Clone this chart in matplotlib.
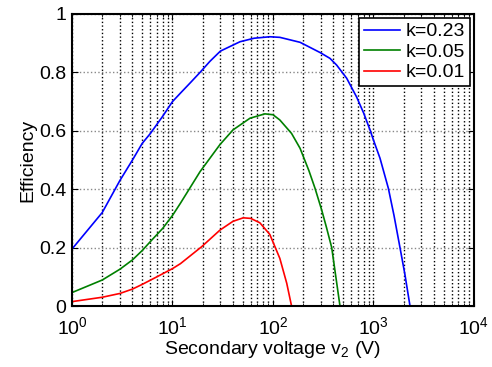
import matplotlib
matplotlib.use('Agg')
import matplotlib.pyplot as plt
import numpy as np
from matplotlib.ticker import LogLocator, NullFormatter

# Values
v_k023 = [1, 2, 3, 4, 5, 6, 8, 10, 12, 15, 18.8, 23.6, 30, 47, 65, 93, 117,
          186, 294, 369, 430, 541, 681, 800, 923, 1000, 1161, 1406, 1600,
          1835, 2050, 2308]
eff_k023 = [0.195, 0.32, 0.43, 0.50, 0.557, 0.59, 0.65, 0.70, 0.729, 0.764,
            0.80, 0.838, 0.873, 0.905, 0.917, 0.922, 0.92, 0.903, 0.868,
            0.848, 0.825, 0.78, 0.715, 0.66, 0.603, 0.568, 0.506, 0.403,
            0.31, 0.20, 0.11, 0.0]

v_k005 = [1, 2, 3, 4, 5, 6, 8, 10, 12, 18.8, 29.7, 40, 59, 83, 100, 117, 153,
          186, 228, 262, 305, 340, 384, 420, 464]
eff_k005 = [0.046, 0.089, 0.126, 0.158, 0.19, 0.22, 0.266, 0.31, 0.352, 0.46,
            0.553, 0.603, 0.643, 0.658, 0.655, 0.637, 0.591, 0.54, 0.463,
            0.403, 0.329, 0.27, 0.2, 0.105, 0.0]

v_k001 = [1, 2, 3, 4, 5, 7, 10, 12, 19.5, 29.7, 40, 50.6, 60, 74, 93, 117,
          137, 153]
eff_k001 = [0.015, 0.03, 0.043, 0.058, 0.074, 0.1, 0.128, 0.145, 0.203, 0.26,
            0.29, 0.302, 0.3, 0.285, 0.245, 0.163, 0.078, 0.0]

labels = ['k=0.23', 'k=0.05', 'k=0.01']
colors = ['#0000ff', '#008000', '#ff0000']

FS = 14

plt.rcParams['font.family'] = 'Liberation Sans'
plt.rcParams['mathtext.fontset'] = 'custom'
plt.rcParams['mathtext.rm'] = 'Liberation Sans'
plt.rcParams['mathtext.it'] = 'Liberation Sans'

fig = plt.figure(figsize=(4.92, 3.67), dpi=100)
ax = fig.add_axes([0.1463, 0.1662, 0.8171, 0.7957])

series = [(v_k023, eff_k023), (v_k005, eff_k005), (v_k001, eff_k001)]
for (v, eff), lab, col in zip(series, labels, colors):
    ax.plot(v, eff, color=col, linewidth=1.2, label=lab)

ax.set_xscale('log')
ax.set_xlim(1, 1e4)
ax.set_ylim(0, 1)
ax.set_yticks(np.arange(0, 1.01, 0.2))
ax.set_yticklabels(['0', '0.2', '0.4', '0.6', '0.8', '1'])
ax.xaxis.set_minor_locator(LogLocator(base=10, subs=np.arange(2, 10)))
ax.xaxis.set_minor_formatter(NullFormatter())

# MATLAB-like grid: black dotted verticals, grey dotted horizontals
ax.grid(True, axis='x', which='both', color='black', linestyle=':',
        linewidth=1.0)
ax.grid(True, axis='y', which='major', color='#888888', linestyle=':',
        linewidth=1.0)

ax.tick_params(which='both', direction='in', top=True, right=True,
               labelsize=FS)
ax.tick_params(axis='x', pad=7)
ax.tick_params(axis='y', pad=4)
ax.tick_params(which='major', length=4)
ax.tick_params(which='minor', length=2)
for sp in ax.spines.values():
    sp.set_linewidth(1.5)

ax.set_xlabel('Secondary voltage v$_2$ (V)', fontsize=FS, labelpad=1)
ax.set_ylabel('Efficiency', fontsize=FS, labelpad=2)

leg = ax.legend(loc='upper right', fontsize=FS, fancybox=False,
                framealpha=1, edgecolor='black', handlelength=1.85,
                borderaxespad=0.2, labelspacing=0.15, handletextpad=0.3,
                borderpad=0.25)
leg.get_frame().set_linewidth(1.2)

fig.savefig('out.png', dpi=100)
